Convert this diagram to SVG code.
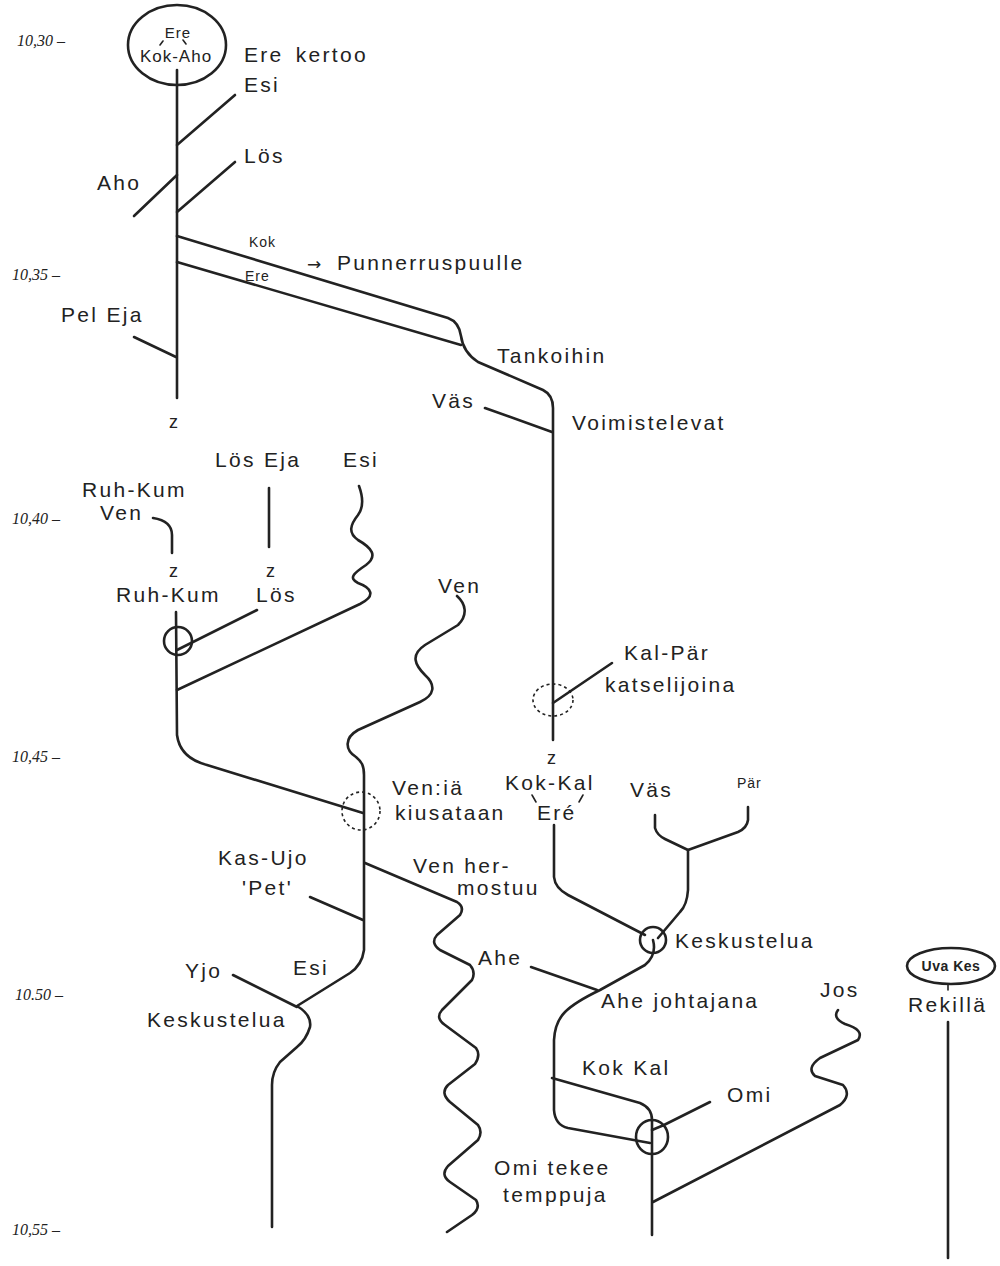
<svg xmlns="http://www.w3.org/2000/svg" width="1000" height="1266" viewBox="0 0 1000 1266">
<style>
.l{fill:none;stroke:#222;stroke-width:2.6;stroke-linecap:round;stroke-linejoin:round}
.t{fill:none;stroke:#222;stroke-width:1.6;stroke-linecap:round}
.d{fill:none;stroke:#222;stroke-width:1.6;stroke-dasharray:3 3}
.c{fill:none;stroke:#222;stroke-width:2.6}
text{font-family:"Liberation Sans",Arial,sans-serif;fill:#222;font-size:21px;letter-spacing:2.3px}
.s{font-size:14px;letter-spacing:1px}
.tm{font-family:"Liberation Serif",serif;font-style:italic;font-size:16px;letter-spacing:0}
.b{font-weight:bold;font-size:14px;letter-spacing:0.5px}
</style>
<rect width="1000" height="1266" fill="#fff"/>
<g id="time">
<text class="tm" x="17" y="46">10,30 –</text>
<text class="tm" x="12" y="280">10,35 –</text>
<text class="tm" x="12" y="524">10,40 –</text>
<text class="tm" x="12" y="762">10,45 –</text>
<text class="tm" x="15" y="1000">10.50 –</text>
<text class="tm" x="12" y="1235">10,55 –</text>
</g>
<g id="connectors">
<path class="l" d="M177,70 V398"/>
<path class="l" d="M235,95 L177,145"/>
<path class="l" d="M235,162 L177,212"/>
<path class="l" d="M177,175 L134,216"/>
<path class="l" d="M177,236 L448,318 Q459,322 461,336 Q463,352 478,362 L543,390 Q553,395 553,408 V740"/>
<path class="l" d="M177,262 L461,345"/>
<path class="l" d="M485,408 L552,432"/>
<path class="l" d="M134,337 L176,357"/>
<path class="l" d="M553,703 L612,663"/>
<path class="l" d="M153,518 Q172,521 172,535 V553"/>
<path class="l" d="M269,488 V547"/>
<path class="l" d="M176,612 L177,735 Q180,758 207,765 L363,813"/>
<path class="l" d="M177,650 L257,610"/>
<path class="l" d="M359,486 C363,497 364,507 358,515 C350,525 348,533 358,540 C372,548 378,556 366,565 C354,573 348,578 358,583 C372,588 376,596 360,604 L177,690"/>
<path class="l" d="M457,596 C466,604 468,615 458,625 L425,645 C410,655 415,665 425,675 C436,685 435,695 420,702 L358,730 C344,738 345,750 356,757 C362,762 364,766 364,775 V950 Q362,965 350,973 L297,1006 Q312,1015 310,1027 Q306,1040 297,1047 L280,1062 Q272,1072 272,1085 V1227"/>
<path class="l" d="M233,975 L297,1007"/>
<path class="l" d="M310,897 L363,920"/>
<path class="l" d="M365,863 L457,902 Q465,907 460,915 L437,935 Q430,943 440,950 L470,965 Q476,972 472,980 L442,1010 Q435,1018 445,1025 L476,1048 Q481,1055 475,1064 L448,1085 Q440,1093 450,1102 L478,1125 Q483,1132 478,1140 L448,1166 Q440,1175 450,1182 L476,1200 Q481,1208 472,1215 L447,1232"/>
<path class="l" d="M554,825 V877 Q555,888 568,895 L645,935"/>
<path class="l" d="M655,815 V828 Q657,835 665,839 L688,850 L738,832 Q747,828 748,820 V807"/>
<path class="l" d="M688,850 V890 Q687,905 680,912 L658,938"/>
<path class="l" d="M653,940 Q657,955 645,965 L600,990 Q575,1002 565,1012 Q555,1022 554,1040 V1110 Q555,1125 568,1128 L650,1143"/>
<path class="l" d="M531,967 L597,990"/>
<path class="l" d="M552,1078 L640,1103 Q652,1108 652,1120 V1235"/>
<path class="l" d="M652,1130 L664,1125 L710,1102"/>
<path class="l" d="M838,1010 Q832,1018 845,1024 Q865,1030 858,1040 L820,1058 Q806,1068 815,1076 L843,1085 Q852,1095 840,1105 L653,1202"/>
<path class="l" d="M948,1022 V1258"/>
<path class="t" d="M948,984 V990"/>
</g>
<g id="n-ere-kokaho">
<ellipse class="c" cx="177" cy="45" rx="49" ry="40"/>
<text x="178" y="38" text-anchor="middle" style="font-size:15px;letter-spacing:1px">Ere</text>
<path class="t" d="M163,41 L160,45 M183,40 L186,44"/>
<text x="176" y="62" text-anchor="middle" style="font-size:17px;letter-spacing:1px">Kok-Aho</text>
</g>
<g id="n-top-labels">
<text x="244" y="62" word-spacing="4">Ere kertoo</text>
<text x="244" y="92">Esi</text>
<text x="244" y="163">Lös</text>
<text x="97" y="190">Aho</text>
<text class="s" x="249" y="247">Kok</text>
<text class="s" x="245" y="281">Ere</text>
<text x="307" y="270" style="font-family:'DejaVu Sans',sans-serif;font-size:17px;letter-spacing:0">→</text>
<text x="337" y="270">Punnerruspuulle</text>
<text x="61" y="322">Pel Eja</text>
<text x="169" y="428" style="font-size:18px">z</text>
<text x="497" y="363">Tankoihin</text>
<text x="432" y="408">Väs</text>
<text x="572" y="430">Voimistelevat</text>
</g>
<g id="n-middle-labels">
<text x="215" y="467">Lös Eja</text>
<text x="343" y="467">Esi</text>
<text x="82" y="497">Ruh-Kum</text>
<text x="100" y="520">Ven</text>
<text x="169" y="577" style="font-size:18px">z</text>
<text x="266" y="577" style="font-size:18px">z</text>
<text x="116" y="602">Ruh-Kum</text>
<text x="256" y="602">Lös</text>
<circle class="c" cx="178" cy="641" r="14"/>
<text x="438" y="593">Ven</text>
<text x="624" y="660">Kal-Pär</text>
<text x="605" y="692">katselijoina</text>
<ellipse class="d" cx="553" cy="700" rx="20" ry="16"/>
<text x="547" y="764" style="font-size:18px">z</text>
<text x="505" y="790">Kok-Kal</text>
<path class="t" d="M532,795 L536,802 M583,795 L579,802"/>
<text x="537" y="820">Eré</text>
<circle class="d" cx="361" cy="811" r="19"/>
<text x="392" y="795">Ven:iä</text>
<text x="395" y="820">kiusataan</text>
<text x="630" y="797">Väs</text>
<text class="s" x="737" y="788">Pär</text>
</g>
<g id="n-lower-labels">
<text x="218" y="865">Kas-Ujo</text>
<text x="242" y="895">'Pet'</text>
<text x="413" y="873">Ven her-</text>
<text x="457" y="895">mostuu</text>
<circle class="c" cx="653" cy="940" r="13"/>
<text x="675" y="948">Keskustelua</text>
<text x="478" y="965">Ahe</text>
<text x="601" y="1008">Ahe johtajana</text>
<text x="185" y="978">Yjo</text>
<text x="293" y="975">Esi</text>
<text x="147" y="1027">Keskustelua</text>
<text x="820" y="997">Jos</text>
<text x="582" y="1075">Kok Kal</text>
<text x="727" y="1102">Omi</text>
<ellipse class="c" cx="652" cy="1137" rx="16" ry="17"/>
<text x="494" y="1175">Omi tekee</text>
<text x="503" y="1202">temppuja</text>
</g>
<g id="n-uvakes">
<ellipse class="c" cx="951" cy="966" rx="44" ry="18"/>
<text class="b" x="951" y="971" text-anchor="middle">Uva Kes</text>
<text x="908" y="1012">Rekillä</text>
</g>
</svg>
